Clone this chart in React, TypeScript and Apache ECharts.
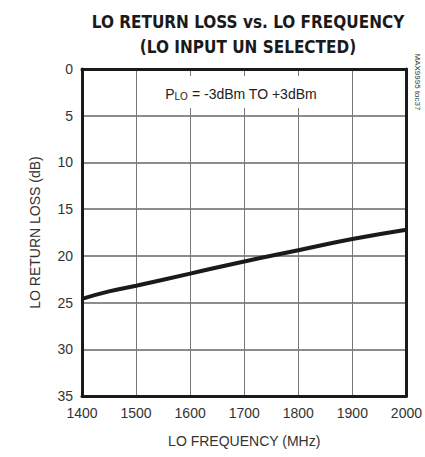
import React, { useEffect, useRef } from "react";
import * as echarts from "echarts";

const freqs = [1400, 1450, 1500, 1600, 1700, 1800, 1900, 2000];
const returnLoss = [24.6, 23.8, 23.2, 21.9, 20.6, 19.4, 18.2, 17.2];
const titleLines = ["LO RETURN LOSS vs. LO FREQUENCY", "(LO INPUT UN SELECTED)"];
const xName = "LO FREQUENCY (MHz)";
const yName = "LO RETURN LOSS (dB)";
const noteId = "MAX9995 toc37";

const FONT = "'Liberation Sans', Arial, sans-serif";
const border = () => ({ show: true, onZero: false, lineStyle: { color: "#1a1a1a", width: 3 } });

export default function App() {
  const ref = useRef<HTMLDivElement>(null);
  useEffect(() => {
    const chart = echarts.init(ref.current!, null, { renderer: "svg" });
    chart.setOption({
      animation: false,
      backgroundColor: "#fff",
      textStyle: { fontFamily: FONT },
      title: {
        text: titleLines.join("\n"),
        left: 243,
        top: 4,
        textAlign: "center",
        textStyle: {
          fontFamily: "'DejaVu Sans Condensed', 'DejaVu Sans', sans-serif",
          fontWeight: "bold",
          fontSize: 17,
          lineHeight: 25,
          color: "#1a1a1a",
        },
      },
      grid: {
        left: 82,
        right: 16,
        top: 69,
        bottom: 61,
      },
      xAxis: [
        {
          type: "value",
          position: "bottom",
          min: 1400,
          max: 2000,
          interval: 100,
          name: xName,
          nameLocation: "middle",
          nameGap: 38,
          nameTextStyle: { fontSize: 14, color: "#333", fontFamily: FONT },
          axisLine: border(),
          axisTick: { show: false },
          axisLabel: { fontSize: 14, color: "#333", margin: 10, fontFamily: FONT, formatter: (v: number) => String(v) },
          splitLine: { show: true, lineStyle: { color: "#777", width: 1, type: "solid" } },
        },
        {
          type: "value",
          position: "top",
          min: 1400,
          max: 2000,
          interval: 100,
          axisLine: border(),
          axisTick: { show: false },
          axisLabel: { show: false },
          splitLine: { show: false },
        },
      ],
      yAxis: [
        {
          type: "value",
          position: "left",
          min: 0,
          max: 35,
          interval: 5,
          inverse: true,
          name: yName,
          nameLocation: "middle",
          nameGap: 40,
          nameTextStyle: { fontSize: 14, color: "#333", fontFamily: FONT },
          axisLine: border(),
          axisTick: { show: false },
          axisLabel: { fontSize: 14, color: "#333", margin: 9, fontFamily: FONT },
          splitLine: { show: true, lineStyle: { color: "#666", width: 1.6, type: "solid" } },
        },
        {
          type: "value",
          position: "right",
          min: 0,
          max: 35,
          interval: 5,
          inverse: true,
          axisLine: border(),
          axisTick: { show: false },
          axisLabel: { show: false },
          splitLine: { show: false },
        },
      ],
      series: [
        {
          type: "line",
          xAxisIndex: 0,
          yAxisIndex: 0,
          data: freqs.map((f, i) => [f, returnLoss[i]]),
          showSymbol: false,
          smooth: true,
          lineStyle: { color: "#1a1a1a", width: 4 },
          z: 5,
        },
      ],
      graphic: [
        {
          type: "text",
          x: 241,
          y: 92,
          z: 20,
          style: {
            text: "{a|P}{b|LO}{a| = -3dBm TO +3dBm}",
            align: "center",
            verticalAlign: "middle",
            backgroundColor: "#fff",
            padding: [7, 4, 7, 4],
            rich: {
              a: { fontSize: 14, fontFamily: FONT, fill: "#222", lineHeight: 18, verticalAlign: "bottom" },
              b: { fontSize: 10, fontFamily: FONT, fill: "#222", lineHeight: 18, verticalAlign: "bottom", padding: [7, 0, 0, 0] },
            },
          },
        },
        {
          type: "text",
          x: 417,
          y: 82,
          rotation: -Math.PI / 2,
          style: {
            text: noteId,
            fontSize: 8,
            fontFamily: FONT,
            fill: "#333",
            align: "center",
            verticalAlign: "middle",
          },
        },
      ],
    });
    return () => chart.dispose();
  }, []);
  return <div ref={ref} style={{ width: 425, height: 457, position: "absolute", left: 0, top: 0 }} />;
}
